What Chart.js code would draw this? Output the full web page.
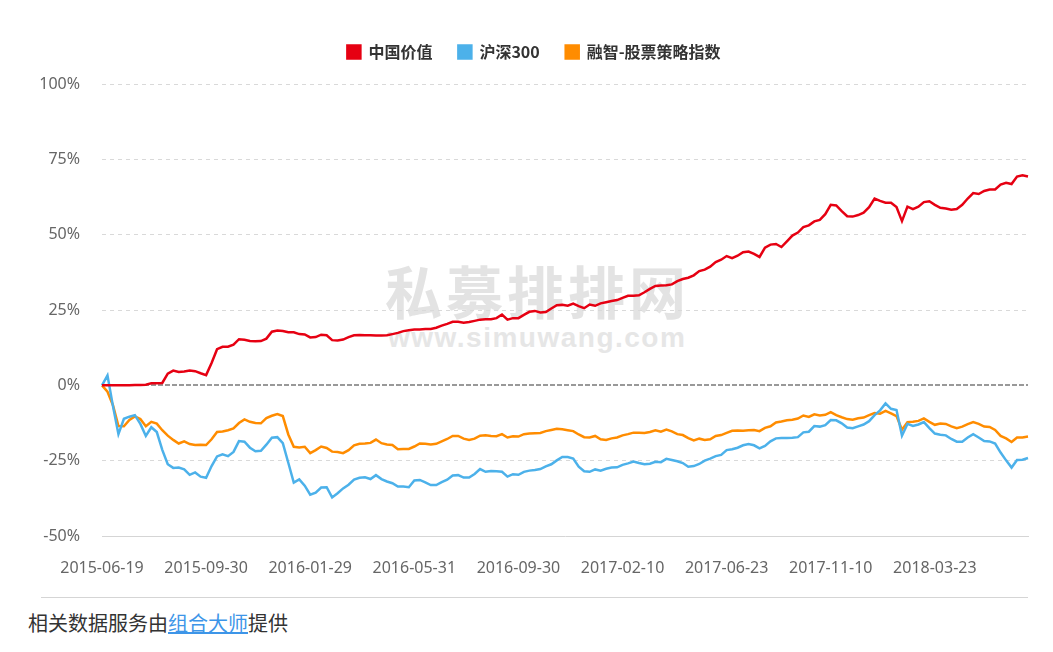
<!DOCTYPE html>
<html>
<head>
<meta charset="utf-8">
<script src="https://cdn.jsdelivr.net/npm/chart.js@4.4.1/dist/chart.umd.min.js"></script>
<style>
  body { margin: 0; background: #fff; width: 1053px; height: 652px; overflow: hidden; position: relative; font-family: "Noto Sans CJK SC", sans-serif; }
  .mark1 { position: absolute; left: 385px; top: 261px; white-space: nowrap; font-size: 57px; line-height: 57px; font-weight: bold; color: #e3e3e3; letter-spacing: 4px; }
  .mark2 { position: absolute; left: 388px; top: 324px; white-space: nowrap; font-family: "Liberation Sans", sans-serif; font-size: 28px; line-height: 28px; font-weight: bold; color: #e6e6e6; letter-spacing: 1.5px; }
  .chart-box { position: absolute; left: 0; top: 0; width: 1053px; height: 590px; }
  .footer-line { position: absolute; left: 41px; top: 597px; width: 987px; border-top: 1px solid #d5d5d5; }
  .footer { position: absolute; left: 28px; top: 609px; font-size: 20px; color: #333; line-height: 28px; }
  .footer a { color: #3d95e8; text-decoration: underline; }
</style>
</head>
<body>
<div class="mark1">私募排排网</div>
<div class="mark2">www.simuwang.com</div>
<div class="chart-box"><canvas id="chart"></canvas></div>
<div class="footer-line"></div>
<div class="footer">相关数据服务由<a>组合大师</a>提供</div>
<script>
const tickLabels = ['2015-06-19', '2015-09-30', '2016-01-29', '2016-05-31', '2016-09-30', '2017-02-10', '2017-06-23', '2017-11-10', '2018-03-23'];
const labelStep = 19;

const seriesNames = ['中国价值', '沪深300', '融智-股票策略指数'];
const seriesColors = ['#e60012', '#4cb1ea', '#ff8c00'];

// 中国价值
const chinaValue = [
  0, 0, 0, 0, 0, 0, 0.1, 0.1, 0.2, 0.7, 0.7, 0.8,
  3.9, 4.9, 4.4, 4.6, 4.9, 4.7, 4.0, 3.4, 7.4, 12.0, 12.8, 12.8, 13.5, 15.3, 15.1, 14.7, 14.6, 14.7,
  15.5, 17.8, 18.2, 18.0, 17.6, 17.6, 17.0, 16.9, 15.9, 16.0, 16.8, 16.6, 15.0,
  14.9, 15.2, 16.0, 16.6, 16.7, 16.6, 16.6, 16.5, 16.5, 16.6, 17.0, 17.4, 18.0, 18.3, 18.5, 18.5,
  18.7, 18.7, 19.1, 19.8, 20.4, 21.1, 21.1, 20.8, 21.0, 21.4, 21.8, 21.9, 21.9, 22.3, 23.5, 21.8,
  22.3, 22.3, 23.4, 24.4, 24.7, 24.2, 24.3, 25.5, 26.6, 26.7, 26.4,
  27.1, 26.3, 25.6, 26.8, 26.4, 27.2, 27.6, 28.0, 28.3, 29.0, 29.7, 29.7, 29.9, 30.9, 32.0, 33.0,
  33.1, 33.2, 33.5, 34.6, 35.3, 35.7, 36.5, 37.9, 38.4, 39.4, 40.9, 41.7, 42.9, 42.2, 43.0, 44.2,
  44.4, 43.6, 42.6, 45.7, 46.7, 46.9, 45.9, 47.8, 49.7, 50.7, 52.5,
  53.1, 54.4, 54.9, 56.8, 59.9, 59.7, 57.8, 56.1, 56.0, 56.5, 57.3, 59.1, 62.0, 61.2, 60.6, 60.6,
  59.2, 54.5, 59.3, 58.5, 59.3, 60.8, 61.1, 59.9, 58.9, 58.7, 58.3, 58.5, 59.9, 62.0, 63.8, 63.5,
  64.5, 65.0, 65.0, 66.6, 67.2, 66.8, 69.3, 69.7, 69.3
];

// 沪深300
const hs300 = [
  0, 3.3, -6.9, -16.2, -11.1, -10.4, -9.9, -12.8, -16.8, -13.9, -15.5, -21.4, -26.2, -27.4, -27.3,
  -27.9, -29.7, -28.9, -30.3, -30.7, -26.8, -23.6, -22.9, -23.5, -22.1, -18.5, -18.7, -20.7, -21.9,
  -21.7, -19.7, -17.4, -17.2, -19.2, -25.7, -32.3, -31.2, -33.3, -36.3, -35.6, -33.9, -33.8, -37.2,
  -35.8, -34.2, -33.0, -31.3, -30.7, -30.5, -31.1, -29.8, -31.1, -31.9, -32.5, -33.6, -33.6, -33.8,
  -31.6, -31.4, -32.2, -33.1, -33.1, -32.1, -31.3, -29.9, -29.8, -30.6, -30.6, -29.4, -27.8, -28.7,
  -28.4, -28.5, -28.7, -30.3, -29.5, -29.7, -28.7, -28.3, -28.1, -27.8, -26.9, -26.2, -24.9, -23.8, -23.8,
  -24.3, -27.0, -28.5, -28.7, -27.9, -28.3, -27.7, -27.3, -27.2, -26.4, -25.9, -25.3, -25.8, -26.2,
  -26.0, -25.4, -25.5, -24.4, -24.8, -25.2, -25.8, -27.0, -26.8, -26.1, -25.0, -24.3, -23.5, -23.1,
  -21.5, -21.2, -20.7, -19.9, -19.5, -19.9, -20.9, -20.1, -18.6, -17.6, -17.5, -17.5, -17.4, -17.2, -15.6,
  -15.4, -13.5, -13.7, -13.2, -11.5, -11.6, -12.6, -14.0, -14.2, -13.6, -13.0, -11.9, -9.9, -8.3,
  -6.0, -7.8, -8.2, -16.7, -12.8, -13.5, -13.0, -12.2, -14.2, -16.0, -16.4, -16.6, -17.8, -18.7,
  -18.7, -17.3, -16.2, -17.3, -18.5, -18.6, -19.3, -22.3, -24.9, -27.3, -24.8, -24.7, -24.1
];

// 融智-股票策略指数
const rongzhi = [
  0, -2.1, -6.6, -13.5, -13.6, -11.5, -10.3, -11.2, -13.6, -12.1, -12.7, -14.9, -16.7, -18.1, -19.3,
  -18.6, -19.5, -19.8, -19.7, -19.8, -17.9, -15.5, -15.3, -14.9, -14.3, -12.5, -11.3, -12.1, -12.5,
  -12.6, -10.9, -10.1, -9.5, -10.2, -16.3, -20.4, -20.6, -20.4, -22.5, -21.5, -20.3, -20.8, -22.0,
  -22.1, -22.5, -21.5, -19.9, -19.4, -19.3, -19.1, -18.0, -19.2, -19.6, -19.8, -21.2, -21.1, -21.1,
  -20.3, -19.3, -19.4, -19.6, -19.4, -18.6, -17.8, -16.8, -16.8, -17.7, -18.1, -17.7, -16.7, -16.6,
  -16.8, -16.9, -16.2, -17.3, -16.9, -17.0, -16.2, -16.0, -15.9, -15.8, -15.2, -14.8, -14.4, -14.6, -14.9,
  -15.2, -16.3, -17.2, -17.3, -16.8, -17.9, -18.1, -17.6, -17.3, -16.6, -16.2, -15.7, -15.7, -15.8,
  -15.5, -14.9, -15.4, -14.7, -15.3, -16.2, -16.5, -17.5, -18.3, -17.7, -18.1, -17.9, -16.8, -16.5,
  -15.8, -15.1, -15.0, -15.1, -14.9, -14.8, -15.2, -14.1, -13.6, -12.3, -12.0, -11.6, -11.4, -11.0, -10.0,
  -10.5, -9.6, -10.0, -9.8, -8.9, -9.9, -10.6, -11.2, -11.4, -10.9, -10.7, -9.9, -9.2, -9.4,
  -8.5, -9.3, -10.2, -14.7, -12.2, -12.1, -11.8, -11.0, -12.1, -13.1, -12.7, -12.8, -13.6, -14.2,
  -13.7, -12.9, -12.2, -12.8, -13.7, -13.8, -14.8, -16.8, -17.6, -18.8, -17.3, -17.3, -17.0
];

// one category per point, a date label every labelStep points
const categories = chinaValue.map((v, i) => (i % labelStep === 0 ? tickLabels[i / labelStep] : ''));

const tickFont = { family: '"Noto Sans", sans-serif', size: 16 };

const legendSpace = {
  id: 'legendSpace',
  beforeInit(chart) {
    const fit = chart.legend.fit;
    chart.legend.fit = function () {
      fit.bind(chart.legend)();
      this.height += 14;
    };
  }
};

const makeSet = (label, data, color) => ({
  label: label,
  data: data,
  borderColor: color,
  backgroundColor: color,
  borderWidth: 2.5,
  pointRadius: 0,
  tension: 0,
  fill: false
});

new Chart(document.getElementById('chart'), {
  type: 'line',
  data: {
    labels: categories,
    datasets: [
      makeSet(seriesNames[0], chinaValue, seriesColors[0]),
      makeSet(seriesNames[1], hs300, seriesColors[1]),
      makeSet(seriesNames[2], rongzhi, seriesColors[2])
    ]
  },
  options: {
    responsive: true,
    maintainAspectRatio: false,
    animation: false,
    layout: { padding: { top: 18, right: 25, left: 40, bottom: 0 } },
    plugins: {
      tooltip: { enabled: false },
      legend: {
        position: 'top',
        labels: {
          boxWidth: 13,
          boxHeight: 13,
          padding: 26,
          color: '#333',
          font: { family: '"Noto Sans CJK SC", sans-serif', size: 16, weight: 'bold' }
        }
      }
    },
    scales: {
      x: {
        offset: false,
        afterFit(scale) { scale.height = 54; },
        grid: { display: true, color: 'rgba(0,0,0,0)', drawTicks: false },
        border: { display: true, color: '#d5d5d5', width: 1 },
        ticks: {
          autoSkip: false,
          maxRotation: 0,
          padding: 23,
          color: '#666',
          font: tickFont,
          callback: (v, i) => categories[i] || null
        }
      },
      y: {
        min: -50,
        max: 100,
        afterFit(scale) { scale.width = 62; },
        border: {
          display: false,
          dash: ctx => (ctx.tick && ctx.tick.value === 0 ? [5, 2] : [4, 4])
        },
        grid: {
          drawTicks: false,
          color: ctx => (ctx.tick.value === -50 ? 'rgba(0,0,0,0)' : ctx.tick.value === 0 ? '#999' : '#d9d9d9'),
          lineWidth: ctx => (ctx.tick.value === 0 ? 2 : 1)
        },
        ticks: {
          stepSize: 25,
          padding: 22,
          color: '#666',
          font: tickFont,
          callback: v => v + '%'
        }
      }
    }
  },
  plugins: [legendSpace]
});
</script>
</body>
</html>
